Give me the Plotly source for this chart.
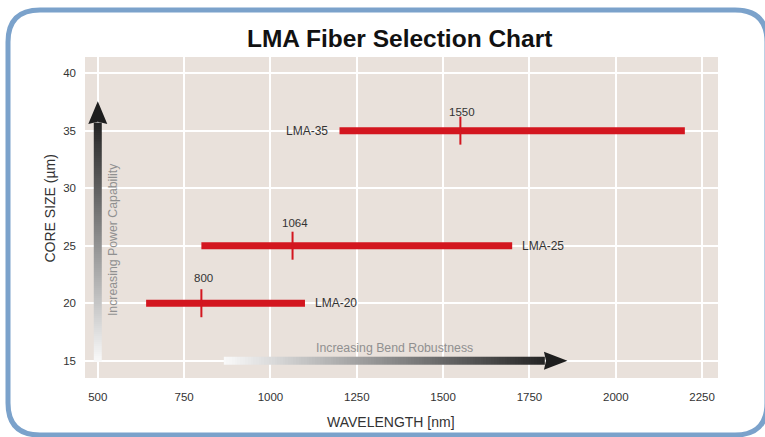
import plotly.graph_objects as go

# ---------------- data ----------------
fibers = ["LMA-20", "LMA-25", "LMA-35"]
core_size = [20, 25, 35]            # µm
wl_min = [640, 800, 1200]            # nm
wl_max = [1100, 1700, 2200]          # nm
design_wl = [800, 1064, 1550]        # nm
x_ticks = [500, 750, 1000, 1250, 1500, 1750, 2000, 2250]
y_ticks = [15, 20, 25, 30, 35, 40]

# ---------------- style / layout ----------------
W, H = 765, 437
ML, MR, MT, MB = 85, 47, 57, 59
PW, PH = W - ML - MR, H - MT - MB
X_RANGE = [463, 2296]
Y_RANGE = [13.5, 41.4]
FONT = "Liberation Sans"
RED = "#d3161f"
TXT = "#333333"
GRAD = [[0, "rgb(250,250,250)"], [1, "rgb(36,36,36)"]]

sx = PW / (X_RANGE[1] - X_RANGE[0])   # px per nm
sy = PH / (Y_RANGE[1] - Y_RANGE[0])   # px per µm


def paper(px, py):
    return (px - ML) / PW, (H - MB - py) / PH


fig = go.Figure()

# gradient arrow shafts (drawn as heatmaps for a smooth gradient)
N = 120
ax = 500
y_start, y_head, y_tip = 14.9, 35.7, 37.55
half_w = 4 / sx
fig.add_trace(go.Heatmap(
    x=[ax - half_w, ax + half_w],
    y=[y_start + (y_head - y_start) * i / N for i in range(N + 1)],
    z=[[(i + 0.5) / N] for i in range(N)],
    zmin=0, zmax=1, colorscale=GRAD, showscale=False, hoverinfo="skip"))

ay = 15
x_start, x_head, x_tip = 865, 1795, 1860
half_h = 4 / sy
fig.add_trace(go.Heatmap(
    x=[x_start + (x_head - x_start) * i / N for i in range(N + 1)],
    y=[ay - half_h, ay + half_h],
    z=[[(i + 0.5) / N for i in range(N)]],
    zmin=0, zmax=1, colorscale=GRAD, showscale=False, hoverinfo="skip"))

# fiber ranges
for name, y, a, b in zip(fibers, core_size, wl_min, wl_max):
    fig.add_trace(go.Scatter(x=[a, b], y=[y, y], mode="lines",
                             line=dict(color=RED, width=7), hoverinfo="skip",
                             showlegend=False))
# design wavelength ticks
fig.add_trace(go.Scatter(x=design_wl, y=core_size, mode="markers",
                         marker=dict(symbol="line-ns", size=20,
                                     line=dict(color=RED, width=2)),
                         showlegend=False, hoverinfo="skip"))

shapes = []
annotations = []

# arrow heads
hw = 9.5 / sx
shapes.append(dict(type="path", xref="x", yref="y",
                   path=f"M {ax-hw},{y_head-0.12} L {ax},{y_tip} L {ax+hw},{y_head-0.12} L {ax},{y_head+0.08} Z",
                   fillcolor="#1e1e1e", line=dict(width=0)))
hh = 9 / sy
shapes.append(dict(type="path", xref="x", yref="y",
                   path=f"M {x_head-3},{ay+hh} L {x_tip},{ay} L {x_head-3},{ay-hh} L {x_head+3},{ay} Z",
                   fillcolor="#1e1e1e", line=dict(width=0)))

# rounded blue border
L_, R_, T_, B_, r = 8, 767, 10, 435, 32


def P(px, py):
    x, y = paper(px, py)
    return f"{x:.5f},{y:.5f}"


path = (f"M {P(L_+r,T_)} L {P(R_-r,T_)} Q {P(R_,T_)} {P(R_,T_+r)} "
        f"L {P(R_,B_-r)} Q {P(R_,B_)} {P(R_-r,B_)} L {P(L_+r,B_)} "
        f"Q {P(L_,B_)} {P(L_,B_-r)} L {P(L_,T_+r)} Q {P(L_,T_)} {P(L_+r,T_)} Z")
shapes.append(dict(type="path", xref="paper", yref="paper", path=path,
                   line=dict(color="#7ba2cb", width=5), layer="below"))

# fiber labels
for name, y, a, b in zip(fibers, core_size, wl_min, wl_max):
    if name == "LMA-35":
        annotations.append(dict(x=a, y=y, xref="x", yref="y", text=name, showarrow=False,
                                xanchor="right", xshift=-10, font=dict(size=12, color=TXT, family=FONT)))
    else:
        annotations.append(dict(x=b, y=y, xref="x", yref="y", text=name, showarrow=False,
                                xanchor="left", xshift=8, font=dict(size=12, color=TXT, family=FONT)))
# design wavelength labels
label_shift = [25, 23, 19]
for wl, y, s in zip(design_wl, core_size, label_shift):
    annotations.append(dict(x=wl, y=y, xref="x", yref="y", text=str(wl), showarrow=False,
                            yshift=s, xshift=2, font=dict(size=11.5, color=TXT, family=FONT)))

# arrow captions
annotations.append(dict(x=544, y=25.57, xref="x", yref="y", text="Increasing Power Capability",
                        showarrow=False, textangle=-90, xanchor="center", yanchor="middle",
                        font=dict(size=12.3, color="#909090", family=FONT)))
annotations.append(dict(x=1358, y=16.1, xref="x", yref="y", text="Increasing Bend Robustness",
                        showarrow=False, xanchor="center", yanchor="middle",
                        font=dict(size=12.3, color="#909090", family=FONT)))

# titles
tx, ty = paper(399.5, 38)
annotations.append(dict(x=tx, y=ty, xref="paper", yref="paper", text="<b>LMA Fiber Selection Chart</b>",
                        showarrow=False, xanchor="center", yanchor="middle",
                        font=dict(size=24.5, color="#111111", family=FONT)))
xx, xy = paper(391, 422)
annotations.append(dict(x=xx, y=xy, xref="paper", yref="paper", text="WAVELENGTH [nm]",
                        showarrow=False, xanchor="center", yanchor="middle",
                        font=dict(size=14, color=TXT, family=FONT)))
yx, yy = paper(49, 208.5)
annotations.append(dict(x=yx, y=yy, xref="paper", yref="paper", text="CORE SIZE (µm)",
                        showarrow=False, textangle=-90, xanchor="center", yanchor="middle",
                        font=dict(size=14, color=TXT, family=FONT)))

fig.update_layout(
    width=W, height=H,
    margin=dict(l=ML, r=MR, t=MT, b=MB, autoexpand=False),
    paper_bgcolor="white", plot_bgcolor="#e9e1db",
    shapes=shapes, annotations=annotations,
    font=dict(family=FONT, color=TXT),
    xaxis=dict(range=X_RANGE, tickvals=x_ticks, showgrid=True, gridcolor="white", gridwidth=1.5,
               zeroline=False, showline=False, ticks="", ticklabelstandoff=10,
               tickfont=dict(size=11.5, color=TXT, family=FONT), fixedrange=True),
    yaxis=dict(range=Y_RANGE, tickvals=y_ticks, showgrid=True, gridcolor="white", gridwidth=1.5,
               zeroline=False, showline=False, ticks="", ticklabelstandoff=8,
               tickfont=dict(size=11.5, color=TXT, family=FONT), fixedrange=True),
)

fig.write_html("out.html", config={"displayModeBar": False},
               post_script="document.body.style.margin='0';document.body.style.overflow='hidden';")
